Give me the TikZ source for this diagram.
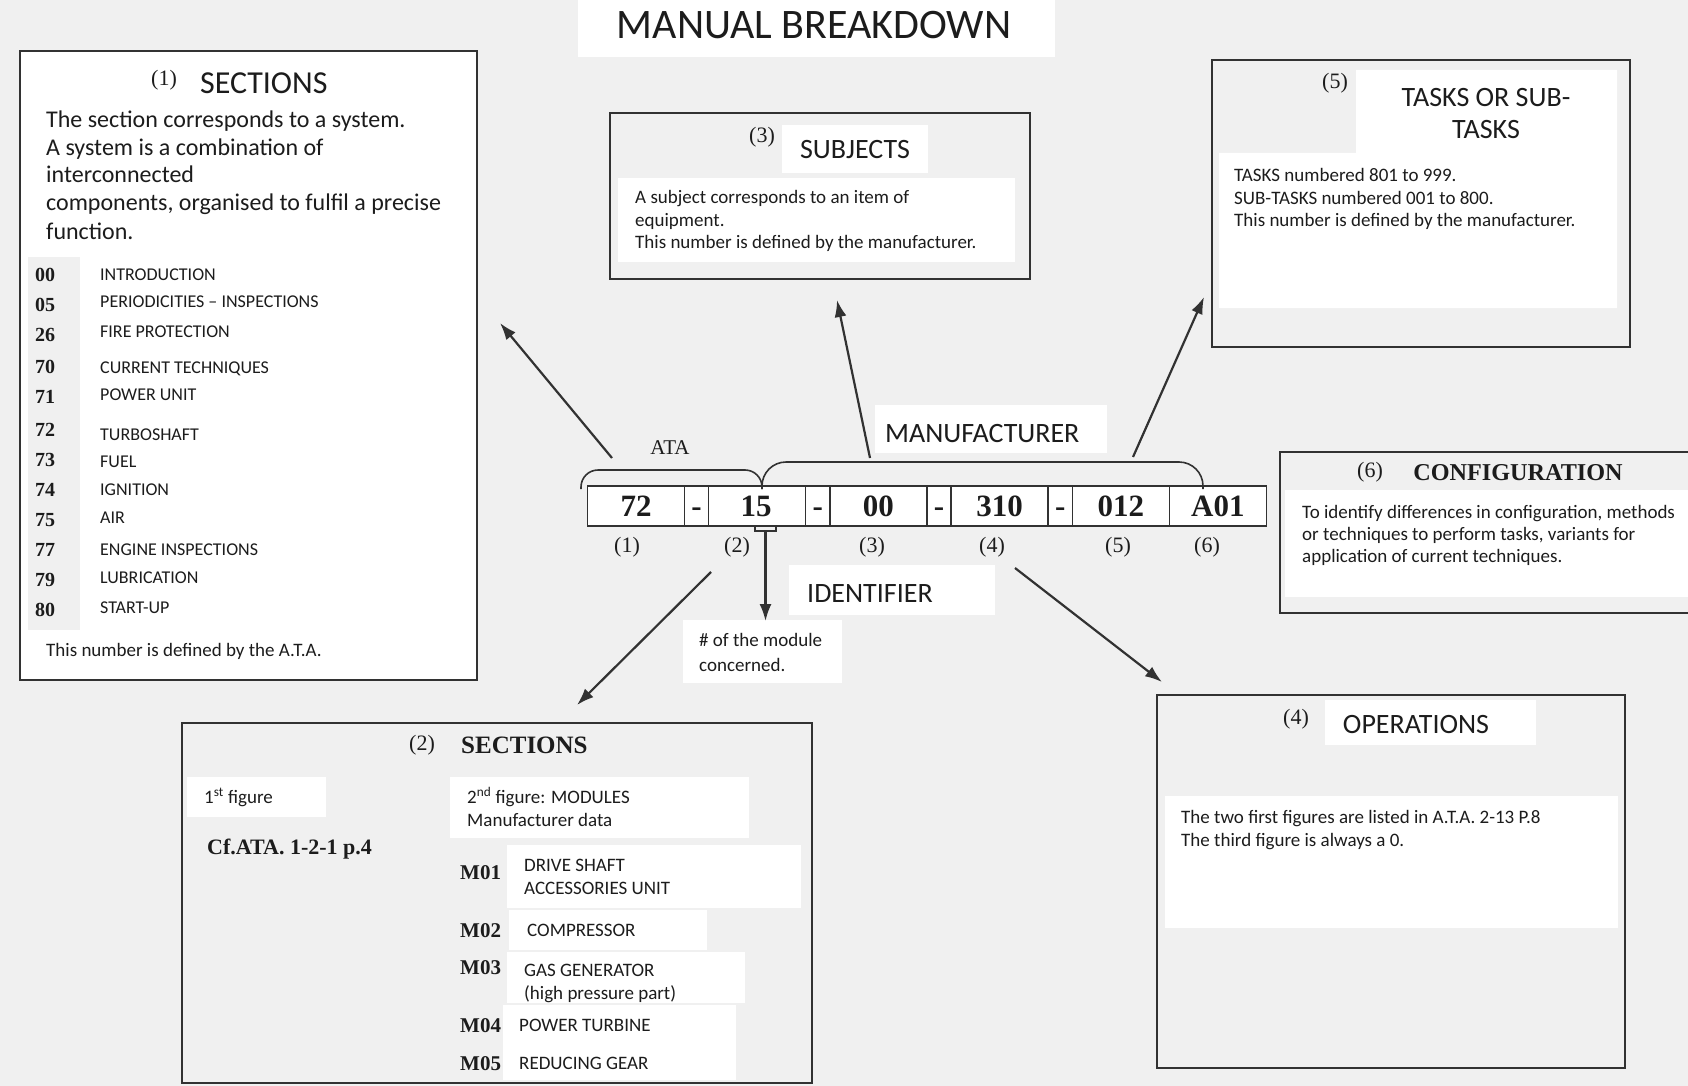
\documentclass[tikz,border=0pt]{standalone}
\usepackage{fontspec}
\setmainfont{Carlito}
\newfontfamily\tms{Liberation Serif}
\usetikzlibrary{arrows.meta}
\definecolor{paper}{RGB}{240,240,240}
\definecolor{ink}{RGB}{50,50,50}
\definecolor{txt}{RGB}{28,28,28}

\begin{document}
\begin{tikzpicture}[x=1pt, y=-1pt,
  frame/.style={draw=ink, line width=2pt, fill=paper},
  patch/.style={fill=white},
  lbl/.style={inner sep=0pt, text=txt, anchor=west},
  body/.style={lbl, font=\fontsize{19}{22}\selectfont, text height=12.2pt, text depth=0pt},
  bigbody/.style={lbl, font=\fontsize{24}{28}\selectfont, text height=15.5pt, text depth=0pt},
  item/.style={lbl, font=\fontsize{18}{21}\selectfont, text height=11.6pt, text depth=0pt},
  head/.style={lbl, font=\fontsize{28}{32}\selectfont, text height=18pt, text depth=0pt},
  paren/.style={inner sep=0pt, text=txt, font=\tms\fontsize{22}{26}\selectfont},
  num/.style={inner sep=0pt, text=txt, font=\tms\bfseries\fontsize{20}{24}\selectfont, text height=13.5pt, text depth=0pt},
  mod/.style={lbl, font=\tms\bfseries\fontsize{21}{24}\selectfont, text height=14pt, text depth=0pt},
  cell/.style={draw=ink, line width=1.4pt, fill=white, minimum height=40pt, inner sep=0pt, outer sep=0pt,
    anchor=west, text=txt, font=\tms\bfseries\fontsize{31}{34}\selectfont, text height=21pt, text depth=0pt},
  bigcell/.style={cell, minimum width=97pt},
  dashcell/.style={cell, minimum width=24.2pt},
  idx/.style={inner sep=0pt, text=txt, font=\tms\fontsize{22}{26}\selectfont},
  pointer/.style={draw=ink, line width=2.2pt, -{Latex[length=17pt,width=12pt]}},
  brace/.style={draw=ink, line width=1.6pt}
]
\useasboundingbox (0,0) rectangle (1688,1086);
\fill[paper] (0,0) rectangle (1688,1086);

% ---------- title ----------
\fill[patch] (578,0) rectangle (1055,57);
\node[inner sep=0pt, text=txt, font=\fontsize{42}{46}\selectfont, text height=27pt, text depth=0pt] (title) at (814,25) {MANUAL BREAKDOWN};

% ---------- (1) SECTIONS ----------
\draw[frame, fill=white] (20,51) rectangle (477,680);
\fill[paper] (28,257) rectangle (80,630);
\node[paren] (p1) at (164,80) {(1)};
\node[lbl, font=\fontsize{32}{36}\selectfont, text height=20.6pt, text depth=0pt] (sec1) at (200,83) {SECTIONS};
\node[bigbody] (s1l1) at (46,120) {The section corresponds to a system.};
\node[bigbody] (s1l2) at (46,148) {A system is a combination of};
\node[bigbody] (s1l3) at (46,175) {interconnected};
\node[bigbody] (s1l4) at (46,203) {components, organised to fulfil a precise};
\node[bigbody] (s1l5) at (46,232) {function.};
\foreach \n/\ny/\t/\ty [count=\i] in {
  00/275/INTRODUCTION/275,
  05/305/PERIODICITIES – INSPECTIONS/302,
  26/335/FIRE PROTECTION/332,
  70/367/CURRENT TECHNIQUES/368,
  71/397/POWER UNIT/395,
  72/430/TURBOSHAFT/435,
  73/460/FUEL/462,
  74/490/IGNITION/490,
  75/520/AIR/518,
  77/550/ENGINE INSPECTIONS/550,
  79/580/LUBRICATION/578,
  80/610/START-UP/608} {
  \node[num] (num\i) at (45,\ny) {\n};
  \node[item] (item\i) at (100,\ty) {\t};
}
\node[body] (s1end) at (46,650) {This number is defined by the A.T.A.};

% ---------- (3) SUBJECTS ----------
\draw[frame] (610,113) rectangle (1030,279);
\fill[patch] (782,125) rectangle (928,173);
\fill[patch] (618,178) rectangle (1015,262);
\node[paren] (p3) at (762,137) {(3)};
\node[head, anchor=center] (sub) at (855,150) {SUBJECTS};
\node[body] (s3l1) at (635,197) {A subject corresponds to an item of};
\node[body] (s3l2) at (635,220) {equipment.};
\node[body] (s3l3) at (635,242) {This number is defined by the manufacturer.};

% ---------- (5) TASKS OR SUB-TASKS ----------
\draw[frame] (1212,60) rectangle (1630,347);
\fill[patch] (1356,70) -- (1617,70) -- (1617,308) -- (1219,308) -- (1219,153) -- (1356,153) -- cycle;
\node[paren] (p5) at (1335,83) {(5)};
\node[head, anchor=center] (tsk1) at (1486,98) {TASKS OR SUB-};
\node[head, anchor=center] (tsk2) at (1486,130) {TASKS};
\node[body] (s5l1) at (1234,175) {TASKS numbered 801 to 999.};
\node[body] (s5l2) at (1234,198) {SUB-TASKS numbered 001 to 800.};
\node[body] (s5l3) at (1234,220) {This number is defined by the manufacturer.};

% ---------- (6) CONFIGURATION ----------
\draw[frame] (1280,452) rectangle (1700,613);
\fill[patch] (1285,490) rectangle (1690,597);
\node[paren] (p6) at (1370,472) {(6)};
\node[inner sep=0pt, text=txt, font=\tms\bfseries\fontsize{24.2}{27}\selectfont, text height=16pt, text depth=0pt] (conf) at (1518,472) {CONFIGURATION};
\node[body] (s6l1) at (1302,512) {To identify differences in configuration, methods};
\node[body] (s6l2) at (1302,534) {or techniques to perform tasks, variants for};
\node[body] (s6l3) at (1302,556) {application of current techniques.};

% ---------- (4) OPERATIONS ----------
\draw[frame] (1157,695) rectangle (1625,1068);
\fill[patch] (1325,700) rectangle (1536,745);
\fill[patch] (1165,796) rectangle (1618,928);
\node[paren] (p4) at (1296,719) {(4)};
\node[head, anchor=center] (ops) at (1416,724) {OPERATIONS};
\node[body] (s4l1) at (1181,817) {The two first figures are listed in A.T.A. 2-13 P.8};
\node[body] (s4l2) at (1181,840) {The third figure is always a 0.};

% ---------- (2) SECTIONS ----------
\draw[frame] (182,723) rectangle (812,1083);
\node[paren] (p2) at (422,745) {(2)};
\node[lbl, font=\tms\bfseries\fontsize{25}{29}\selectfont, text height=16.6pt, text depth=0pt] (sec2) at (461,745) {SECTIONS};
\fill[patch] (187,777) rectangle (326,817);
\node[body] (fig1) at (204,797) {1\textsuperscript{st} figure};
\node[lbl, font=\tms\bfseries\fontsize{22}{25}\selectfont, text height=14.6pt, text depth=0pt] (cfata) at (207,847) {Cf.ATA. 1-2-1 p.4};
\fill[patch] (450,777) rectangle (749,838);
\node[body] (fig2a) at (467,797) {2\textsuperscript{nd} figure: MODULES};
\node[body] (fig2b) at (467,820) {Manufacturer data};
\fill[patch] (507,845) rectangle (801,908);
\fill[patch] (509,910) rectangle (707,950);
\fill[patch] (507,952) rectangle (745,1003);
\fill[patch] (503,1005) rectangle (736,1080);
\node[mod] (m1) at (460,872) {M01};
\node[body] (m1a) at (524,865) {DRIVE SHAFT};
\node[body] (m1b) at (524,888) {ACCESSORIES UNIT};
\node[mod] (m2) at (460,930) {M02};
\node[body] (m2a) at (527,930) {COMPRESSOR};
\node[mod] (m3) at (460,967) {M03};
\node[body] (m3a) at (524,970) {GAS GENERATOR};
\node[body] (m3b) at (524,993) {(high pressure part)};
\node[mod] (m4) at (460,1025) {M04};
\node[body] (m4a) at (519,1025) {POWER TURBINE};
\node[mod] (m5) at (460,1063) {M05};
\node[body] (m5a) at (519,1063) {REDUCING GEAR};

% ---------- reference number strip ----------
\node[bigcell]  (c1)  at (587.5,506) {72};
\node[dashcell] (c2)  at (c1.east) {-};
\node[bigcell]  (c3)  at (c2.east) {15\kern2pt};
\node[dashcell] (c4)  at (c3.east) {-};
\node[bigcell]  (c5)  at (c4.east) {00};
\node[dashcell] (c6)  at (c5.east) {-};
\node[bigcell]  (c7)  at (c6.east) {310};
\node[dashcell] (c8)  at (c7.east) {-};
\node[bigcell]  (c9)  at (c8.east) {012};
\node[bigcell]  (c10) at (c9.east) {A01};

\node[idx] (i1) at (627,547) {(1)};
\node[idx] (i2) at (737,547) {(2)};
\node[idx] (i3) at (872,547) {(3)};
\node[idx] (i4) at (992,547) {(4)};
\node[idx] (i5) at (1118,547) {(5)};
\node[idx] (i6) at (1207,547) {(6)};

% braces over the strip
\draw[brace, rounded corners=17pt] (581,489) -- (581,470) -- (762,470) -- (762,489);
\draw[brace, rounded corners=24pt] (762,489) -- (762,462) -- (1203,462) -- (1203,489);
\node[inner sep=0pt, text=txt, font=\tms\fontsize{21}{24}\selectfont] (ata) at (670,448) {ATA};
\fill[patch] (875,405) rectangle (1107,453);
\node[head] (manu) at (885,433) {MANUFACTURER};

% identifier
\fill[patch] (789,565) rectangle (995,615);
\node[head] (ident) at (807,593) {IDENTIFIER};
\fill[patch] (683,620) rectangle (842,683);
\node[body] (mod1) at (699,640) {\# of the module};
\node[body] (mod2) at (699,665) {concerned.};

% ---------- connectors ----------
\coordinate (brk) at (765.5,531);
\draw[brace, line width=1.4pt] (755,526) -- (755,531) -- (776,531) -- (776,526);
\coordinate (idtip) at (765.5,621);
\draw[pointer] (brk) -- (idtip);

\coordinate (a1s) at (612,458);  \coordinate (a1e) at (500,323);
\coordinate (a3s) at (870,458);  \coordinate (a3e) at (837,300);
\coordinate (a5s) at (1133,457); \coordinate (a5e) at (1204,297);
\coordinate (a2s) at (711,572);  \coordinate (a2e) at (577,705);
\coordinate (a4s) at (1015,568); \coordinate (a4e) at (1162,682);
\draw[pointer] (a1s) -- (a1e);
\draw[pointer] (a3s) -- (a3e);
\draw[pointer] (a5s) -- (a5e);
\draw[pointer] (a2s) -- (a2e);
\draw[pointer] (a4s) -- (a4e);
\end{tikzpicture}
\end{document}
